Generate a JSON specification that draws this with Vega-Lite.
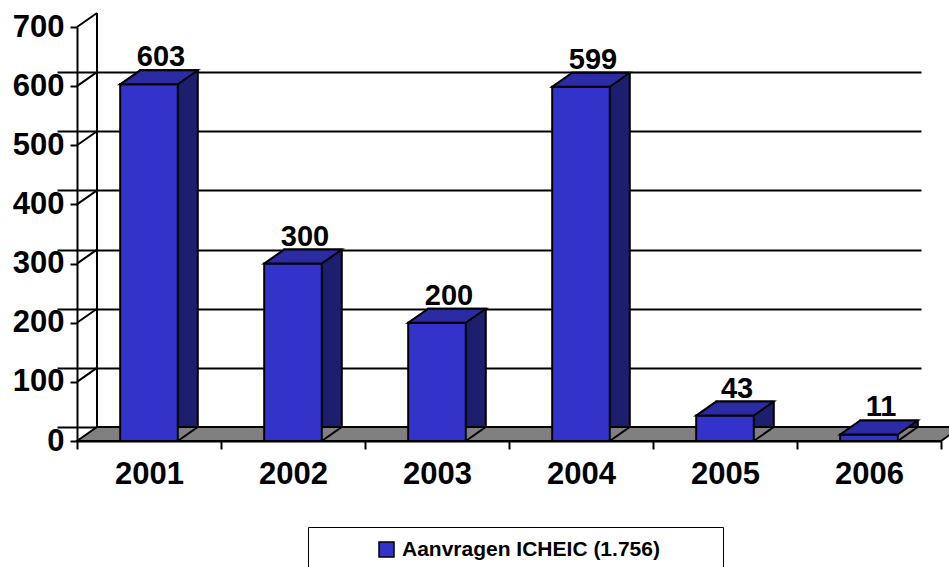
{
  "$schema": "https://vega.github.io/schema/vega-lite/v6.json",
  "width": 864,
  "height": 414,
  "autosize": {"type": "none"},
  "padding": {"left": 77, "top": 27, "right": 8, "bottom": 126},
  "config": {"view": {"stroke": null}, "font": "Liberation Sans"},
  "datasets": {
    "main": [
      {"jaar": "2001", "aantal": 603, "serie": "Aanvragen ICHEIC (1.756)"},
      {"jaar": "2002", "aantal": 300, "serie": "Aanvragen ICHEIC (1.756)"},
      {"jaar": "2003", "aantal": 200, "serie": "Aanvragen ICHEIC (1.756)"},
      {"jaar": "2004", "aantal": 599, "serie": "Aanvragen ICHEIC (1.756)"},
      {"jaar": "2005", "aantal": 43, "serie": "Aanvragen ICHEIC (1.756)"},
      {"jaar": "2006", "aantal": 11, "serie": "Aanvragen ICHEIC (1.756)"}
    ]
  },
  "data": {"name": "main"},
  "layer": [
    {
      "mark": {"type": "point", "opacity": 0},
      "encoding": {
        "x": {"field": "jaar", "type": "nominal", "title": null, "scale": {"range": [20, 884], "paddingInner": 0, "paddingOuter": 0}, "axis": null},
        "y": {"field": "aantal", "type": "quantitative", "title": null, "scale": {"domain": [-23.67, 676.33], "nice": false, "zero": false},
          "axis": {"orient": "right", "values": [0, 100, 200, 300, 400, 500, 600, 700], "grid": true, "gridColor": "black", "gridWidth": 2, "gridOpacity": 1, "domain": false, "ticks": false, "labels": false, "title": null}}
      }
    },
    {
      "layer": [
        {
          "transform": [{"filter": "datum.jaar == '2001'"}],
          "mark": {"type": "point", "filled": true, "opacity": 1, "size": 4, "fill": "#808080", "stroke": "black", "strokeWidth": 2,
            "shape": "M-72,0 L792,0 L812,-14 L-52,-14 Z M-52,-14 L-52,-428 M-72,-414 L-52,-428 M-72,-354.86 L-52,-368.86 M-72,-295.71 L-52,-309.71 M-72,-236.57 L-52,-250.57 M-72,-177.43 L-52,-191.43 M-72,-118.29 L-52,-132.29 M-72,-59.14 L-52,-73.14"},
          "encoding": {
            "x": {"field": "jaar", "type": "nominal", "title": null, "scale": {"paddingInner": 0, "paddingOuter": 0},
              "axis": {"title": null, "labelAngle": 0, "labelFont": "Liberation Sans", "labelFontWeight": "bold", "labelFontSize": 31, "labelColor": "black", "labelPadding": 10, "tickSize": 8, "tickWidth": 2, "tickColor": "black", "domainColor": "black", "domainWidth": 2, "tickBand": "extent", "grid": false}},
            "y": {"datum": 0, "type": "quantitative", "title": null, "scale": {"domain": [0, 700], "nice": false},
              "axis": {"orient": "left", "title": null, "values": [0, 100, 200, 300, 400, 500, 600, 700], "labelFont": "Liberation Sans", "labelFontWeight": "bold", "labelFontSize": 31, "labelColor": "black", "labelPadding": 6, "tickSize": 7, "tickWidth": 2, "tickColor": "black", "domainColor": "black", "domainWidth": 2, "grid": false}}
          }
        },
        {
          "mark": {"type": "bar", "width": {"band": 0.4}, "xOffset": 20, "yOffset": -14, "y2Offset": 0, "fill": "#1E1E6E", "stroke": "black", "strokeWidth": 2},
          "encoding": {
            "x": {"field": "jaar", "type": "nominal", "title": null, "scale": {"paddingInner": 0, "paddingOuter": 0}},
            "y": {"field": "aantal", "type": "quantitative", "title": null, "scale": {"domain": [0, 700], "nice": false}}
          }
        },
        {
          "mark": {"type": "point", "filled": true, "opacity": 1, "size": 4, "fill": "#808080", "stroke": "black", "strokeWidth": 2,
            "shape": "M52,0 L28.8,0 L48.8,-14 L52,-14"},
          "encoding": {
            "x": {"field": "jaar", "type": "nominal", "title": null, "scale": {"paddingInner": 0, "paddingOuter": 0}},
            "y": {"datum": 0, "type": "quantitative", "title": null, "scale": {"domain": [0, 700], "nice": false}}
          }
        },
        {
          "mark": {"type": "bar", "width": {"band": 0.4}, "stroke": "black", "strokeWidth": 2, "opacity": 1},
          "encoding": {
            "x": {"field": "jaar", "type": "nominal", "title": null, "scale": {"paddingInner": 0, "paddingOuter": 0}},
            "y": {"field": "aantal", "type": "quantitative", "title": null, "scale": {"domain": [0, 700], "nice": false}},
            "color": {"field": "serie", "type": "nominal", "scale": {"range": ["#3333CC"]},
              "legend": {"orient": "none", "legendX": 231, "legendY": 500, "title": " ", "titleOrient": "left", "titleFontSize": 2, "titlePadding": 56,
                "padding": 12, "fillColor": "white", "strokeColor": "black",
                "symbolType": "square", "symbolSize": 225, "symbolStrokeColor": "black", "symbolStrokeWidth": 1.5,
                "labelFont": "Liberation Sans", "labelFontWeight": "bold", "labelFontSize": 21, "labelColor": "black", "labelLimit": 800, "labelOffset": 5,
                "labelExpr": "datum.label + '\u2800 \u2800\u2800'",
                "encode": {"legend": {"update": {"strokeWidth": {"value": 2}}}}}}
          }
        },
        {
          "mark": {"type": "point", "filled": true, "opacity": 1, "size": 4, "fill": "#2B2BA3", "stroke": "black", "strokeWidth": 2,
            "shape": "M-28.8,0 L28.8,0 L48.8,-14 L-8.8,-14 Z"},
          "encoding": {
            "x": {"field": "jaar", "type": "nominal", "title": null, "scale": {"paddingInner": 0, "paddingOuter": 0}},
            "y": {"field": "aantal", "type": "quantitative", "title": null, "scale": {"domain": [0, 700], "nice": false}}
          }
        },
        {
          "mark": {"type": "text", "font": "Liberation Sans", "fontWeight": "bold", "fontSize": 29, "dx": 12, "dy": -18, "baseline": "alphabetic", "align": "center", "fill": "black"},
          "encoding": {
            "x": {"field": "jaar", "type": "nominal", "title": null, "scale": {"paddingInner": 0, "paddingOuter": 0}},
            "y": {"field": "aantal", "type": "quantitative", "title": null, "scale": {"domain": [0, 700], "nice": false}},
            "text": {"field": "aantal", "type": "quantitative"}
          }
        }
      ]
    }
  ],
  "resolve": {"scale": {"x": "independent", "y": "independent"}}
}
